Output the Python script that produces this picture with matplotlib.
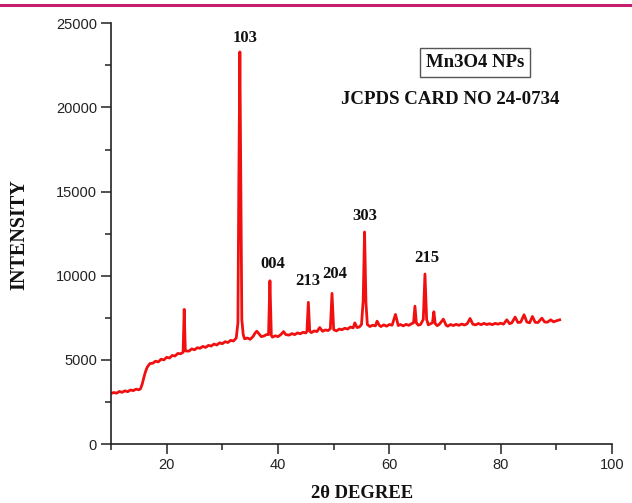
import matplotlib
matplotlib.use("Agg")
import matplotlib.pyplot as plt
from matplotlib.ticker import MultipleLocator
from matplotlib.lines import Line2D

# ---- data ----
two_theta = [
    10.0, 10.5, 11.0, 11.5, 12.0, 12.5, 13.0, 13.5, 14.0, 14.5, 15.0,
    15.3, 15.6, 15.9, 16.2, 16.5, 16.8, 17.0, 17.5, 18.0, 18.5, 19.0,
    19.5, 20.0, 20.5, 21.0, 21.5, 22.0, 22.5, 22.95, 23.15, 23.35, 24.0,
    24.5, 25.0, 25.5, 26.0, 26.5, 27.0, 27.5, 28.0, 28.5, 29.0, 29.5,
    30.0, 30.5, 31.0, 31.5, 32.0, 32.5, 32.8, 32.95, 33.15, 33.35, 33.5,
    33.75, 34.0, 34.5, 35.0, 35.5, 35.9, 36.2, 36.5, 37.0, 37.5, 37.9,
    38.3, 38.55, 38.8, 39.0, 39.5, 40.0, 40.5, 41.0, 41.4, 42.0, 42.5,
    43.0, 43.5, 44.0, 44.5, 45.0, 45.2, 45.45, 45.7, 46.0, 46.5, 47.0,
    47.5, 48.0, 48.5, 49.0, 49.4, 49.7, 50.0, 50.5, 51.0, 51.5, 52.0,
    52.5, 53.0, 53.5, 53.8, 54.2, 54.6, 55.0, 55.3, 55.55, 55.8, 56.05,
    56.5, 57.0, 57.5, 57.8, 58.2, 58.5, 59.0, 59.5, 60.0, 60.5, 61.1,
    61.6, 62.0, 62.5, 63.0, 63.5, 64.0, 64.35, 64.6, 64.85, 65.2, 65.6,
    66.1, 66.4, 66.7, 67.0, 67.4, 67.75, 68.0, 68.25, 68.6, 69.0, 69.7,
    70.2, 70.5, 71.0, 71.5, 72.0, 72.5, 73.0, 73.5, 74.0, 74.5, 75.0,
    75.5, 76.0, 76.5, 77.0, 77.5, 78.0, 78.5, 79.0, 79.5, 80.0, 80.5,
    81.1, 81.6, 82.0, 82.6, 83.1, 83.6, 84.2, 84.7, 85.2, 85.7, 86.2,
    86.7, 87.4, 87.9, 88.4, 89.0, 89.5, 90.0, 90.6,
]
intensity = [
    3000, 3060, 3020, 3120, 3070, 3160, 3110, 3210, 3170, 3260, 3220,
    3280, 3550, 3950, 4300, 4560, 4700, 4780, 4800, 4920, 4880, 5040,
    5000, 5150, 5110, 5260, 5230, 5380, 5360, 5450, 8000, 5530, 5520,
    5650, 5600, 5720, 5690, 5800, 5740, 5860, 5820, 5940, 5880, 6010,
    5960, 6080, 6030, 6160, 6120, 6300, 7200, 15000, 23300, 14000, 7400,
    6500, 6250, 6300, 6220, 6380, 6600, 6700, 6580, 6380, 6420, 6500,
    6500, 9700, 6450, 6350, 6430, 6380, 6500, 6680, 6500, 6470, 6560,
    6500, 6600, 6550, 6640, 6600, 6700, 8420, 6700, 6620, 6720, 6680,
    6920, 6700, 6780, 6740, 6850, 8950, 6800, 6720, 6830, 6790, 6880,
    6830, 6950, 6900, 7200, 6920, 6950, 7100, 8500, 12600, 8400, 7100,
    6980, 7060, 7020, 7300, 7050, 6980, 7080, 7000, 7100, 7060, 7700,
    7040, 7100, 7020, 7110, 7050, 7150, 7200, 8190, 7200, 7060, 7100,
    7400, 10100, 7400, 7080, 7150, 7200, 7860, 7150, 7030, 7120, 7420,
    7060, 7000, 7100, 7040, 7110, 7050, 7130, 7070, 7150, 7460, 7120,
    7080, 7160, 7090, 7170, 7100, 7150, 7090, 7170, 7120, 7180, 7120,
    7380, 7150, 7200, 7540, 7220, 7240, 7680, 7250, 7200, 7580, 7230,
    7220, 7480, 7250, 7240, 7380, 7260, 7320, 7380,
]

peak_labels = ["103", "004", "213", "204", "303", "215"]
label_x = [34.1, 39.1, 45.4, 50.2, 55.6, 66.8]
label_y = [23650, 10250, 9200, 9650, 13050, 10600]

x_ticks = [20, 40, 60, 80, 100]
y_ticks = [0, 5000, 10000, 15000, 20000, 25000]

# ---- figure ----
W, H = 632, 503
fig = plt.figure(figsize=(W / 100, H / 100), dpi=100)
ax = fig.add_axes([111 / W, 1 - 444 / H, (612 - 111) / W, (444 - 23.3) / H])

ax.plot(two_theta, intensity, color="#F01010", lw=2.0, solid_joinstyle="round")

ax.set_xlim(10, 100)
ax.set_ylim(0, 25000)
ax.set_xticks(x_ticks)
ax.set_yticks(y_ticks)
ax.xaxis.set_minor_locator(MultipleLocator(10))
ax.yaxis.set_minor_locator(MultipleLocator(2500))

for s in ["top", "right"]:
    ax.spines[s].set_visible(False)
for s in ["left", "bottom"]:
    ax.spines[s].set_linewidth(1.2)
    ax.spines[s].set_color("#222222")

ax.tick_params(which="major", direction="out", length=7, width=1.1, color="#222222",
               labelsize=10.5, labelcolor="#222222", pad=3)
ax.tick_params(which="minor", direction="out", length=4, width=1.1, color="#222222")
for lab in ax.get_xticklabels() + ax.get_yticklabels():
    lab.set_fontfamily("Liberation Sans")

serif = ["Liberation Serif", "DejaVu Serif"]
for t, xx, yy in zip(peak_labels, label_x, label_y):
    ax.text(xx, yy, t, ha="center", va="bottom", fontsize=12,
            fontweight="bold", family=serif, color="#111111")

fig.text(475 / W, 1 - 62.5 / H, "Mn3O4 NPs", ha="center", va="center",
         fontsize=13.5, fontweight="bold", family=serif, color="#111111",
         bbox=dict(boxstyle="square,pad=0.3", fc="white", ec="#555555", lw=1.0))
fig.text(450 / W, 1 - 100 / H, "JCPDS CARD NO 24-0734", ha="center", va="center",
         fontsize=13.6, fontweight="bold", family=serif, color="#111111")

fig.text(362 / W, 1 - 493 / H, "2θ DEGREE", ha="center", va="center",
         fontsize=13.4, fontweight="bold", family=serif, color="#111111")
fig.text(19 / W, 1 - 235 / H, "INTENSITY", ha="center", va="center", rotation=90,
         fontsize=14.5, fontweight="bold", family=serif, color="#111111")

# magenta rule at top
fig.add_artist(Line2D([0, 1], [1 - 4.5 / H, 1 - 4.5 / H], transform=fig.transFigure,
                      color="#C41E6E", lw=2.2))

fig.savefig("out.png", dpi=100)
